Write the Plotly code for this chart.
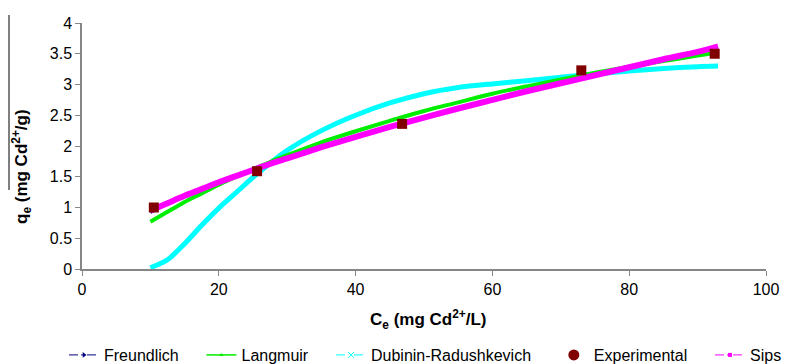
import plotly.graph_objects as go

# Experimental data
ce_exp = [10.5, 25.6, 46.8, 73.0, 92.5]
qe_exp = [1.00, 1.59, 2.36, 3.23, 3.50]

# Model curves
ce_fit = [10, 12.5, 15, 17.5, 20, 22.5, 25, 27.5, 30, 35, 40, 45, 50, 55, 60, 65, 70, 75, 80, 85, 90, 93]
q_freundlich = [0.92, 1.06, 1.18, 1.30, 1.41, 1.51, 1.61, 1.71, 1.80, 1.98, 2.15, 2.31, 2.46, 2.61, 2.75, 2.89, 3.03, 3.16, 3.28, 3.41, 3.53, 3.60]
q_langmuir = [0.77, 0.93, 1.09, 1.23, 1.37, 1.50, 1.62, 1.74, 1.85, 2.06, 2.24, 2.41, 2.57, 2.71, 2.85, 2.97, 3.08, 3.19, 3.29, 3.38, 3.47, 3.52]
q_dr = [0.02, 0.15, 0.41, 0.71, 0.99, 1.24, 1.49, 1.72, 1.93, 2.25, 2.50, 2.70, 2.85, 2.95, 3.01, 3.06, 3.12, 3.17, 3.22, 3.26, 3.29, 3.30]
q_sips = [0.95, 1.07, 1.19, 1.30, 1.41, 1.51, 1.61, 1.71, 1.80, 1.98, 2.15, 2.31, 2.46, 2.61, 2.75, 2.89, 3.02, 3.15, 3.28, 3.41, 3.53, 3.62]

x_ticks = [0, 20, 40, 60, 80, 100]
y_ticks = [0, 0.5, 1, 1.5, 2, 2.5, 3, 3.5, 4]

FONT = "Arial, Liberation Sans, sans-serif"
c_fr, c_la, c_dr, c_ex, c_si = "#000080", "#00EE00", "#00FFFF", "#800000", "#FF00FF"
PAD = "\u00a0" * 4

fig = go.Figure()
# visible curves (no legend)
fig.add_trace(go.Scatter(x=ce_fit, y=q_freundlich, mode="lines", line=dict(color=c_fr, width=3, dash="dashdot"),
                         showlegend=False))
fig.add_trace(go.Scatter(x=ce_fit, y=q_dr, mode="lines", line=dict(color=c_dr, width=5, shape="spline", smoothing=0.8),
                         showlegend=False))
fig.add_trace(go.Scatter(x=ce_fit, y=q_langmuir, mode="lines", line=dict(color=c_la, width=4, shape="spline"),
                         showlegend=False))
fig.add_trace(go.Scatter(x=ce_fit, y=q_sips, mode="lines", line=dict(color=c_si, width=6, shape="spline"),
                         showlegend=False))
fig.add_trace(go.Scatter(x=ce_exp, y=qe_exp, mode="markers",
                         marker=dict(symbol="square", size=10, color=c_ex), showlegend=False))

# legend entries
fig.add_trace(go.Scatter(x=[None], y=[None], mode="lines+markers", name="Freundlich" + PAD,
                         line=dict(color=c_fr, width=1, dash="dashdot"),
                         marker=dict(symbol="triangle-right", size=5, color=c_fr)))
fig.add_trace(go.Scatter(x=[None], y=[None], mode="lines+markers", name="Langmuir" + PAD,
                         line=dict(color=c_la, width=1.5),
                         marker=dict(symbol="triangle-up", size=4, color=c_la)))
fig.add_trace(go.Scatter(x=[None], y=[None], mode="lines+markers", name="Dubinin-Radushkevich" + PAD,
                         line=dict(color=c_dr, width=1, dash="dash"),
                         marker=dict(symbol="x-thin", size=6, color=c_dr, line=dict(color=c_dr, width=1))))
fig.add_trace(go.Scatter(x=[None], y=[None], mode="markers", name="Experimental" + PAD,
                         marker=dict(symbol="circle", size=11, color=c_ex)))
fig.add_trace(go.Scatter(x=[None], y=[None], mode="lines+markers", name="Sips",
                         line=dict(color=c_si, width=1, dash="dashdot"),
                         marker=dict(symbol="square", size=4, color=c_si)))

fig.update_layout(
    width=790, height=364,
    margin=dict(l=82, r=24, t=23, b=95, autoexpand=False),
    paper_bgcolor="white", plot_bgcolor="white",
    font=dict(family=FONT, size=16, color="black"),
    showlegend=True,
    legend=dict(orientation="h", x=(64 - 82) / 684, xanchor="left", y=(269 - 355) / 246, yanchor="middle",
                font=dict(size=16), itemwidth=30, tracegroupgap=0, bgcolor="rgba(0,0,0,0)"),
    xaxis=dict(range=[0, 100], tickvals=x_ticks, showgrid=False, zeroline=False,
               showline=True, linecolor="#868686", linewidth=1.5,
               ticks="outside", ticklen=5, tickcolor="#868686", tickfont=dict(size=16)),
    yaxis=dict(range=[0, 4], tickvals=y_ticks, showgrid=False, zeroline=False,
               showline=True, linecolor="#868686", linewidth=1.5,
               ticks="outside", ticklen=5, tickcolor="#868686", tickfont=dict(size=16)),
    annotations=[
        dict(text="<b>C<sub>e</sub> (mg Cd<sup>2+</sup>/L)</b>", xref="paper", yref="paper",
             x=(428 - 82) / 684, y=(269 - 319) / 246, xanchor="center", yanchor="middle",
             showarrow=False, font=dict(size=17)),
        dict(text="<b>q<sub>e</sub> (mg Cd<sup>2+</sup>/g)</b>", xref="paper", yref="paper",
             x=(21 - 82) / 684, y=(269 - 167) / 246, xanchor="center", yanchor="middle",
             textangle=-90, showarrow=False, font=dict(size=17)),
    ],
    shapes=[
        dict(type="line", xref="paper", yref="paper",
             x0=(9 - 82) / 684, x1=(9 - 82) / 684, y0=(269 - 15) / 246, y1=(269 - 190) / 246,
             line=dict(color="black", width=1)),
    ],
)

fig.write_html("out.html")
